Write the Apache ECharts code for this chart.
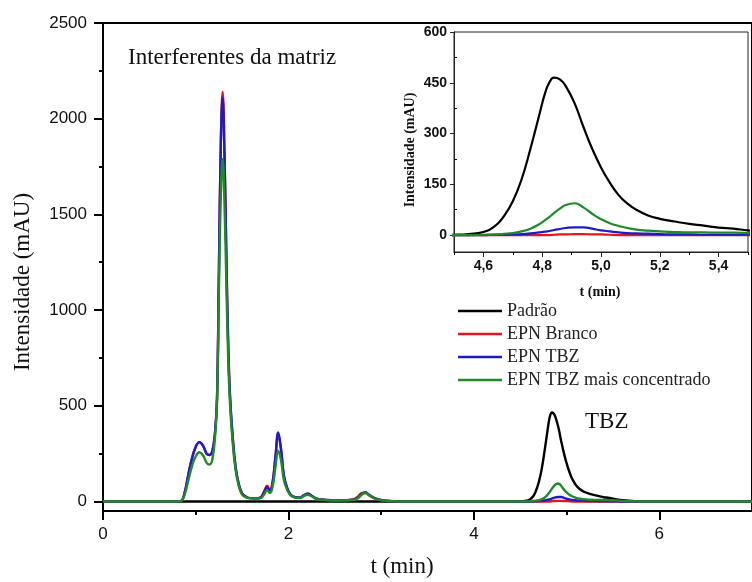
<!DOCTYPE html>
<html>
<head>
<meta charset="utf-8">
<script src="https://cdn.jsdelivr.net/npm/echarts@6/dist/echarts.min.js"></script>
<style>
  html, body { margin: 0; padding: 0; background: #fff; }
  #chart { width: 752px; height: 582px; }
</style>
</head>
<body>
<div id="chart"></div>
<script>
// Retention time (min), shared by every trace; denser around the TBZ peak
const time = [
  0, 0.5, 0.8, 0.84, 0.88, 0.92, 0.96, 1.00, 1.04, 1.08, 1.12,
  1.15, 1.18, 1.21, 1.23, 1.25, 1.27, 1.29, 1.31, 1.33, 1.35, 1.37, 1.40, 1.43, 1.46,
  1.50, 1.55, 1.60, 1.65, 1.70, 1.74, 1.77, 1.80, 1.83, 1.86, 1.89, 1.92, 1.95, 1.98, 2.02,
  2.07, 2.12, 2.17, 2.21, 2.25, 2.30, 2.38, 2.50, 2.60, 2.70, 2.75, 2.79, 2.83, 2.87, 2.92, 2.98, 3.05, 3.20, 4.00, 4.40,
  4.50, 4.55, 4.60, 4.64, 4.67, 4.70, 4.73, 4.76, 4.79, 4.81, 4.825, 4.84, 4.86, 4.88, 4.91, 4.94, 4.97,
  5.00, 5.03, 5.06, 5.09, 5.12, 5.16, 5.20, 5.25, 5.30, 5.35, 5.40, 5.45, 5.50, 5.60, 5.70, 5.80, 7.00
];

// Intensity (mAU) per trace, aligned with `time`
const padrao = [
  0, 0, 0, 0, 0, 0, 0, 0, 0, 0, 0,
  0, 0, 0, 0, 0, 0, 0, 0, 0, 0, 0, 0, 0, 0,
  0, 0, 0, 0, 0, 0, 0, 0, 0, 0, 0, 0, 0, 0, 0,
  0, 0, 0, 0, 0, 0, 0, 0, 0, 0, 0, 0, 0, 0, 0, 0, 0, 0, 0, 0,
  1, 3, 9, 27, 56, 100, 165, 255, 355, 420, 452, 465, 460, 440, 390, 320, 255,
  200, 155, 118, 93, 75, 58, 48, 40, 33, 28, 22, 19, 14, 7, 3, 0, 0
];
const epnBranco = [
  0, 0, 0, 2, 45, 140, 225, 285, 310, 290, 248,
  243, 265, 370, 540, 1200, 1850, 2140, 1820, 1300, 830, 550, 330, 180, 100,
  42, 22, 17, 16, 22, 55, 82, 60, 105, 230, 345, 270, 135, 78, 37,
  22, 20, 33, 40, 30, 15, 9, 5, 6, 12, 26, 43, 45, 33, 19, 9, 4, 0, 0, 0,
  0, 0, 0, 0, 0, 0, 0, 0, 0, 0, 0, 1, 2, 2, 3, 3, 2,
  2, 1, 0, 0, 0, 0, 0, 0, 0, 0, 0, 0, 0, 0, 0, 0, 0
];
const epnTbz = [
  0, 0, 0, 2, 45, 140, 225, 285, 310, 290, 248,
  243, 265, 370, 540, 1200, 1850, 2110, 1820, 1300, 830, 550, 330, 180, 100,
  42, 22, 17, 16, 20, 50, 75, 55, 100, 235, 360, 275, 140, 80, 38,
  22, 20, 33, 40, 30, 15, 9, 5, 6, 9, 20, 40, 48, 35, 20, 9, 4, 0, 0, 0,
  0, 0, 0, 1, 1, 2, 3, 5, 8, 10, 12, 15, 18, 21, 23, 23, 19,
  14, 11, 8, 6, 5, 4, 3, 2, 2, 1, 1, 1, 1, 0, 0, 0, 0
];
const epnTbzConc = [
  0, 0, 0, 2, 35, 110, 185, 235, 257, 240, 200,
  193, 220, 350, 527, 1100, 1580, 1790, 1560, 1150, 750, 510, 300, 165, 90,
  36, 20, 16, 15, 17, 38, 58, 45, 80, 180, 265, 215, 115, 68, 33,
  20, 18, 29, 35, 27, 14, 8, 5, 6, 8, 17, 35, 44, 32, 18, 8, 4, 0, 0, 0,
  0, 0, 1, 2, 4, 6, 11, 19, 32, 44, 54, 65, 78, 89, 94, 82, 63,
  47, 35, 27, 21, 16, 13, 11, 9, 8, 8, 7, 7, 6, 3, 1, 0, 0
];

const seriesNames = ['Padrão', 'EPN Branco', 'EPN TBZ', 'EPN TBZ mais concentrado'];
const seriesColors = ['#000000', '#e3161d', '#1c1cc6', '#22892a'];
const seriesValues = [padrao, epnBranco, epnTbz, epnTbzConc];

// Axis ticks
const mainXTicks = [0, 2, 4, 6];
const mainXMinor = [1, 3, 5];
const mainYTicks = [0, 500, 1000, 1500, 2000, 2500];
const mainYMinor = [250, 750, 1250, 1750, 2250];
const insetXTicks = [4.6, 4.8, 5.0, 5.2, 5.4];
const insetXMinor = [4.5, 4.7, 4.9, 5.1, 5.3, 5.5];
const insetYTicks = [0, 150, 300, 450, 600];
const insetYMinor = [75, 225, 375, 525];

const SANS = "'Liberation Sans', Arial, sans-serif";
const SERIF = "'Liberation Serif', 'Times New Roman', serif";

function pairs(values) {
  return time.map((t, i) => [t, values[i]]);
}

function majorAxis(opts) {
  return Object.assign({
    type: 'value',
    splitLine: { show: false },
    axisLine: { show: true, onZero: false, lineStyle: { color: '#000', width: 2 } },
  }, opts);
}

function tickOnlyAxis(opts, values, len, width, inside) {
  return Object.assign({
    type: 'value',
    splitLine: { show: false },
    axisLine: { show: false, onZero: false },
    axisLabel: { show: false },
    axisTick: { show: true, inside: !!inside, length: len, customValues: values,
                lineStyle: { color: '#000', width: width } }
  }, opts);
}

const chart = echarts.init(document.getElementById('chart'), null, { renderer: 'canvas' });

const xAxes = [
  majorAxis({
    gridIndex: 0, min: 0, max: 7, position: 'bottom',
    axisTick: { show: true, length: 9, customValues: mainXTicks, lineStyle: { color: '#000', width: 2 } },
    axisLabel: { customValues: mainXTicks, margin: 15, fontFamily: SANS, fontSize: 17, color: '#111',
                 formatter: v => String(v) }
  }),
  tickOnlyAxis({ gridIndex: 0, min: 0, max: 7, position: 'bottom' }, mainXMinor, 4, 2),
  majorAxis({
    gridIndex: 1, min: 4.5, max: 5.5, position: 'bottom',
    axisLine: { show: true, onZero: false, lineStyle: { color: '#222', width: 1 } },
    axisTick: { show: true, length: 5, customValues: insetXTicks, lineStyle: { color: '#222', width: 1 } },
    axisLabel: { customValues: insetXTicks, margin: 7, fontFamily: SANS, fontSize: 14, fontWeight: 'bold', color: '#111',
                 formatter: v => v.toFixed(1).replace('.', ',') }
  }),
  tickOnlyAxis({ gridIndex: 1, min: 4.5, max: 5.5, position: 'bottom' }, insetXMinor, 3, 1)
];

const yAxes = [
  majorAxis({
    gridIndex: 0, min: -50, max: 2500, position: 'left',
    axisTick: { show: true, length: 9, customValues: mainYTicks, lineStyle: { color: '#000', width: 2 } },
    axisLabel: { customValues: mainYTicks, margin: 16, fontFamily: SANS, fontSize: 17, color: '#111',
                 formatter: v => String(v) }
  }),
  tickOnlyAxis({ gridIndex: 0, min: -50, max: 2500, position: 'left' }, mainYMinor, 4, 2),
  majorAxis({
    gridIndex: 1, min: -50, max: 600, position: 'left',
    axisLine: { show: true, onZero: false, lineStyle: { color: '#222', width: 1 } },
    axisTick: { show: true, length: 4, customValues: insetYTicks, lineStyle: { color: '#222', width: 1 } },
    axisLabel: { customValues: insetYTicks, margin: 7, fontFamily: SANS, fontSize: 14, fontWeight: 'bold', color: '#111',
                 formatter: v => String(v) }
  }),
  tickOnlyAxis({ gridIndex: 1, min: -50, max: 600, position: 'left' }, insetYMinor, 3, 1, true)
];

const series = [];
seriesValues.forEach((vals, i) => {
  series.push({
    name: seriesNames[i], type: 'line', xAxisIndex: 0, yAxisIndex: 0,
    data: pairs(vals), showSymbol: false, smooth: 0.45,
    lineStyle: { color: seriesColors[i], width: 2.4 }, itemStyle: { color: seriesColors[i] },
    z: 2 + i
  });
});
seriesValues.forEach((vals, i) => {
  series.push({
    name: seriesNames[i], type: 'line', xAxisIndex: 2, yAxisIndex: 2,
    data: pairs(vals), showSymbol: false, smooth: 0.5, clip: true,
    lineStyle: { color: seriesColors[i], width: 2.2 }, itemStyle: { color: seriesColors[i] },
    z: 2 + i
  });
});

chart.setOption({
  animation: false,
  backgroundColor: '#fff',
  grid: [
    { left: 103, top: 23, width: 656, height: 488, show: true, borderColor: '#000', borderWidth: 2,
      backgroundColor: 'transparent', containLabel: false },
    { left: 454, top: 32, width: 294, height: 220, show: true, borderColor: '#222', borderWidth: 1,
      backgroundColor: '#fff', containLabel: false }
  ],
  xAxis: xAxes,
  yAxis: yAxes,
  legend: {
    data: seriesNames,
    orient: 'vertical', left: 458, top: 302, padding: 0,
    icon: 'rect', itemWidth: 44, itemHeight: 2.5, itemGap: 5,
    selectedMode: false,
    textStyle: { fontFamily: SERIF, fontSize: 18, lineHeight: 18, color: '#222' }
  },
  graphic: [
    { type: 'text', x: 128, y: 58, style: { text: 'Interferentes da matriz', fontFamily: SERIF, fontSize: 23,
      fill: '#111', align: 'left', verticalAlign: 'middle' } },
    { type: 'text', x: 585, y: 422, style: { text: 'TBZ', fontFamily: SERIF, fontSize: 23,
      fill: '#111', align: 'left', verticalAlign: 'middle' } },
    { type: 'text', x: 402, y: 567, style: { text: 't (min)', fontFamily: SERIF, fontSize: 23,
      fill: '#111', align: 'center', verticalAlign: 'middle' } },
    { type: 'text', x: 23, y: 282, rotation: Math.PI / 2, style: { text: 'Intensidade (mAU)', fontFamily: SERIF,
      fontSize: 23, fill: '#111', align: 'center', verticalAlign: 'middle' } },
    { type: 'text', x: 600, y: 292, style: { text: 't (min)', fontFamily: SERIF, fontSize: 14, fontWeight: 'bold',
      fill: '#111', align: 'center', verticalAlign: 'middle' } },
    { type: 'text', x: 410, y: 150, rotation: Math.PI / 2, style: { text: 'Intensidade (mAU)', fontFamily: SERIF,
      fontSize: 14, fontWeight: 'bold', fill: '#111', align: 'center', verticalAlign: 'middle' } }
  ],
  series: series
});
</script>
</body>
</html>
